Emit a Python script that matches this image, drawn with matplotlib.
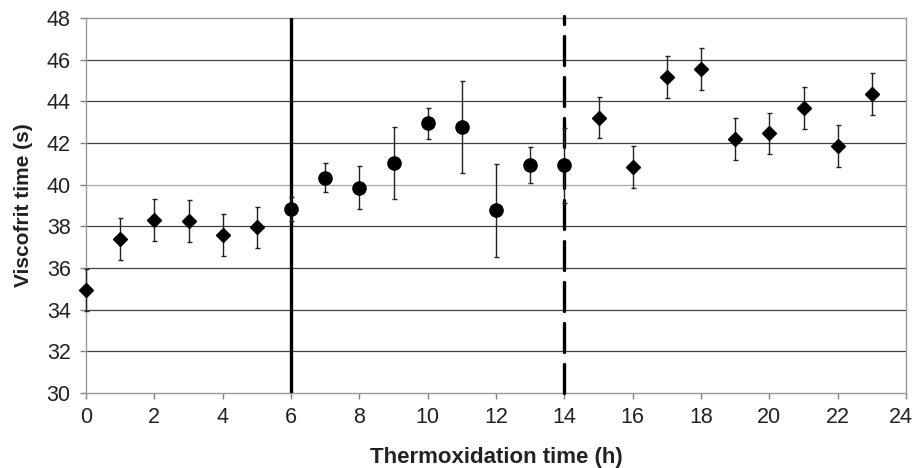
import matplotlib
matplotlib.use("Agg")
import matplotlib.pyplot as plt
import matplotlib.transforms as mtransforms

plt.rcParams['font.family'] = ['Liberation Sans', 'DejaVu Sans']

# diamonds: before 6 h and after 14 h
hours_d = [0, 1, 2, 3, 4, 5, 15, 16, 17, 18, 19, 20, 21, 22, 23]
visc_d = [34.95, 37.38, 38.3, 38.27, 37.6, 37.95, 43.22, 40.86, 45.17, 45.54,
          42.19, 42.46, 43.68, 41.87, 44.34]
err_d = [1.0, 1.0, 1.0, 1.0, 1.0, 1.0, 1.0, 1.0, 1.0, 1.0,
         1.0, 1.0, 1.0, 1.0, 1.0]

# circles: 6 h to 14 h
hours_c = [6, 7, 8, 9, 10, 11, 12, 13, 14]
visc_c = [38.82, 40.33, 39.86, 41.04, 42.94, 42.77, 38.78, 40.94, 40.94]
err_c = [0.58, 0.7, 1.04, 1.72, 0.73, 2.23, 2.23, 0.86, 1.8]

x_ticks = list(range(0, 25, 2))
y_ticks = list(range(30, 49, 2))

fig = plt.figure(figsize=(9.14, 4.68), dpi=100)
ax = fig.add_axes([86 / 914, 1 - 393 / 468, 820 / 914, 375 / 468])

for y in y_ticks[1:-1]:
    c = "#aaaaaa" if y == 40 else "#404040"
    ax.axhline(y, color=c, lw=0.9, zorder=1)

ax.errorbar(hours_c, visc_c, yerr=err_c, fmt="o", color="black", ms=9.5,
            ecolor="#222222", elinewidth=1, capsize=1.8, capthick=1, zorder=4)
ax.errorbar(hours_d, visc_d, yerr=err_d, fmt="D", color="black", ms=7.5,
            ecolor="#222222", elinewidth=1, capsize=1.8, capthick=1, zorder=4,
            clip_on=False)

ax.axvline(6, color="black", lw=2.4, zorder=3)
ax.plot([14, 14], [30, 48.12], color="black", lw=2.4, dashes=(8.7, 3.6),
        dash_capstyle="round", clip_on=False, zorder=3)

ax.set_xlim(0, 24)
ax.set_ylim(30, 48)
ax.set_xticks(x_ticks)
ax.set_yticks(y_ticks)
ax.tick_params(axis="both", labelsize=15.5, color="#808080", length=4,
               width=1, labelcolor="#222222")
ax.tick_params(axis="y", pad=7)
ax.tick_params(axis="x", pad=6)

# last x label sits slightly left so it stays inside the figure
last = ax.get_xticklabels()[-1]
last.set_transform(last.get_transform() +
                   mtransforms.ScaledTranslation(-5 / 100, 0, fig.dpi_scale_trans))

for s in ax.spines.values():
    s.set_color("#999999")
    s.set_linewidth(1)

ax.set_xlabel("Thermoxidation time (h)", fontsize=16, fontweight="bold",
              color="#222222", labelpad=14)
ax.set_ylabel("Viscofrit time (s)", fontsize=15, fontweight="bold",
              color="#222222", labelpad=10)

fig.savefig("out.png", dpi=100)
